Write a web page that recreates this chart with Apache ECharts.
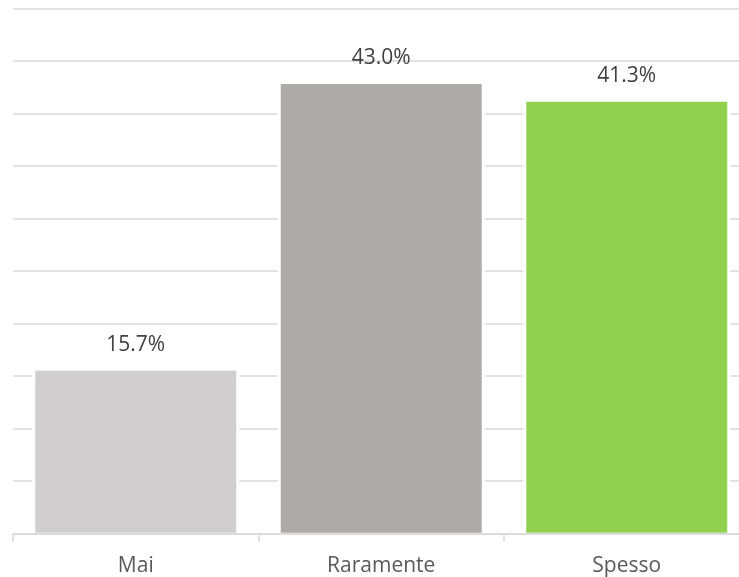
<!DOCTYPE html>
<html>
<head>
<meta charset="utf-8">
<script src="https://cdn.jsdelivr.net/npm/echarts@6/dist/echarts.min.js"></script>
<style>
  html, body { margin: 0; padding: 0; background: #fff; }
  #chart { width: 739px; height: 577px; }
</style>
</head>
<body>
<div id="chart"></div>
<script>
// Answer categories and their share of respondents (%)
const categories = ['Mai', 'Raramente', 'Spesso'];
const values = [15.7, 43.0, 41.3];
const barColors = ['#D0CECE', '#AEAAAA', '#92D050'];

const BAR_W = 201;     // filled column width
const GAP = 3;         // white margin that breaks the gridlines beside each column

// Columns with a thin white halo (sides and top) so gridlines stop short of them
function renderColumn(params, api) {
  const idx = api.value(0);
  const v = api.value(1);
  const base = api.coord([idx, 0]);
  const top = api.coord([idx, v]);
  const cx = base[0];
  const bottom = base[1] - 0.75;
  return {
    type: 'group',
    children: [
      {
        type: 'rect',
        shape: { x: cx - BAR_W / 2 - GAP, y: top[1] - 0.5, width: BAR_W + 2 * GAP, height: bottom - top[1] + 0.5 },
        style: { fill: '#ffffff' }
      },
      {
        type: 'rect',
        shape: { x: cx - BAR_W / 2, y: top[1] + 2, width: BAR_W, height: bottom - top[1] - 2 },
        style: { fill: barColors[idx] }
      },
      {
        type: 'text',
        x: cx,
        y: top[1] - 24,
        style: {
          text: v.toFixed(1) + '%',
          textAlign: 'center',
          textVerticalAlign: 'middle',
          fill: '#404040',
          font: '21px "Open Sans"'
        }
      }
    ]
  };
}

const chart = echarts.init(document.getElementById('chart'));
chart.setOption({
  animation: false,
  backgroundColor: '#ffffff',
  grid: {
    left: 13, width: 736.5, top: 8.5, bottom: 43.5,
    containLabel: false,
    outerBoundsMode: 'none'
  },
  xAxis: {
    type: 'category',
    data: categories,
    z: 5,
    axisLine: { show: true, lineStyle: { color: '#D9D9D9', width: 1.5 } },
    axisTick: { show: true, length: 8, lineStyle: { color: '#D9D9D9', width: 1.5 } },
    axisLabel: { color: '#595959', fontFamily: 'Open Sans', fontSize: 21, margin: 22 }
  },
  yAxis: {
    type: 'value',
    min: 0,
    max: 50,
    interval: 5,
    axisLine: { show: false },
    axisTick: { show: false },
    axisLabel: { show: false },
    splitLine: { lineStyle: { color: '#D9D9D9', width: 1.5 } }
  },
  series: [{
    type: 'custom',
    renderItem: renderColumn,
    encode: { x: 0, y: 1 },
    data: values.map((v, i) => [i, v])
  }]
});
</script>
</body>
</html>
